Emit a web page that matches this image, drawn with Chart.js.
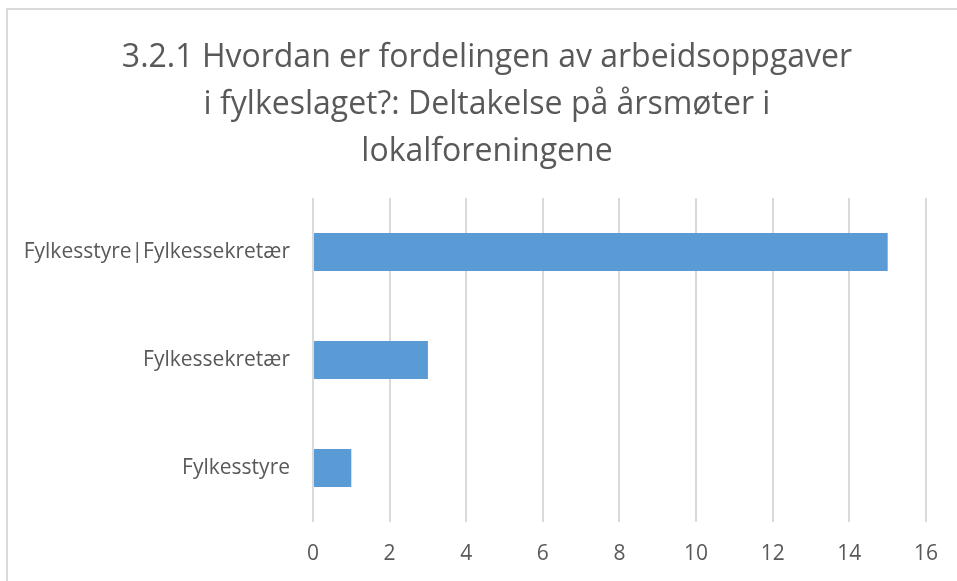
<!DOCTYPE html>
<html>
<head>
<meta charset="utf-8">
<script src="https://cdn.jsdelivr.net/npm/chart.js@4"></script>
<style>
  body { margin: 0; background: #fff; overflow: hidden; }
  #ramme { position: absolute; left: 6px; top: 8px; width: 1200px; height: 900px;
           border-top: 2px solid #d9d9d9; border-left: 2px solid #d9d9d9; }
  #boks { position: absolute; left: 0; top: 0; width: 957px; height: 581px; }
</style>
</head>
<body>
<div id="ramme"></div>
<div id="boks"><canvas id="diagram" width="957" height="581"></canvas></div>
<script>
// data lest av bildet
const tittel = ['3.2.1 Hvordan er fordelingen av arbeidsoppgaver',
                'i fylkeslaget?: Deltakelse på årsmøter i',
                'lokalforeningene'];
const kategorier = ['Fylkesstyre|Fylkessekretær', 'Fylkessekretær', 'Fylkesstyre'];
const verdier = [15, 3, 1];
const aksMin = 0;
const aksMaks = 16;
const aksSteg = 2;

const tekstFarge = '#595959';
const skrift = "'Open Sans', 'Noto Sans', sans-serif";

// flytter tittelen litt til høyre, slik Excel sentrerer den
const flyttTittel = {
    id: 'flyttTittel',
    afterLayout: function(chart) {
        if (chart.titleBlock) chart.titleBlock.left = 48;
    }
};

var ctx = document.getElementById('diagram').getContext('2d');

var mittDiagram = new Chart(ctx, {
    type: 'bar',
    data: {
        labels: kategorier,
        datasets: [{
            data: verdier,
            backgroundColor: '#5b9bd5',
            borderWidth: 0,
            categoryPercentage: 1,
            barPercentage: 0.352
        }]
    },
    plugins: [flyttTittel],
    options: {
        indexAxis: 'y',
        responsive: false,
        animation: false,
        layout: { padding: { left: 0, right: 31, top: 0, bottom: 0 } },
        plugins: {
            legend: { display: false },
            tooltip: { enabled: false },
            title: {
                display: true,
                text: tittel,
                color: tekstFarge,
                font: { family: skrift, size: 32, weight: 'normal', lineHeight: '47px' },
                padding: { top: 34, bottom: 23 }
            }
        },
        scales: {
            x: {
                min: aksMin,
                max: aksMaks,
                ticks: { stepSize: aksSteg, color: tekstFarge, padding: 19,
                         font: { family: skrift, size: 21 } },
                grid: { color: '#d9d9d9', lineWidth: 2, drawTicks: false },
                border: { display: false },
                afterFit: function(s) { s.height = 59; }
            },
            y: {
                ticks: { color: tekstFarge, padding: 23,
                         font: { family: skrift, size: 21 } },
                grid: { display: false, drawTicks: false },
                border: { display: false },
                afterFit: function(s) { s.width = 313; }
            }
        }
    }
});
</script>
</body>
</html>
